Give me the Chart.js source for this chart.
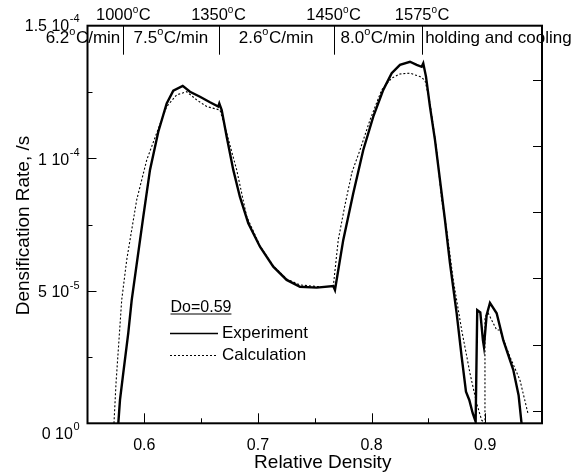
<!DOCTYPE html>
<html>
<head>
<meta charset="utf-8">
<script src="https://cdn.jsdelivr.net/npm/chart.js@4.4.1/dist/chart.umd.min.js"></script>
<style>
  html, body { margin: 0; padding: 0; background: #fff; }
  #wrap { width: 581px; height: 475px; }
</style>
</head>
<body>
<div id="wrap"><canvas id="c" width="581" height="475"></canvas></div>
<script>
// ---------------- DATA ----------------
// Relative density (x) and densification rate in units of 1e-5 /s (y)
const expDensity = [0.5771,0.5786,0.5815,0.5859,0.5889,0.5991,0.6050,0.6123,0.6197,0.6255,0.6338,0.6402,0.6490,0.6578,0.6651,0.6660,0.6681,0.6725,0.6783,0.6841,0.6915,0.7018,0.7135,0.7253,0.7370,0.7517,0.7663,0.7678,0.7751,0.7839,0.7927,0.8015,0.8103,0.8177,0.8250,0.8338,0.8397,0.8441,0.8455,0.8479,0.8514,0.8558,0.8602,0.8646,0.8690,0.8749,0.8793,0.8831,0.8860,0.8890,0.8916,0.8930,0.8957,0.8980,0.8989,0.9013,0.9042,0.9101,0.9159,0.9247,0.9294,0.9320];
const expRate    = [0.00,0.88,1.90,3.41,4.65,7.80,9.56,11.00,12.07,12.55,12.73,12.51,12.32,12.11,11.95,12.07,11.82,10.81,9.56,8.55,7.55,6.66,5.91,5.41,5.15,5.12,5.18,5.03,6.92,8.68,10.31,11.57,12.58,13.21,13.52,13.64,13.52,13.45,13.58,13.08,11.95,10.69,9.18,7.67,6.04,4.15,2.51,1.19,0.88,0.38,0.06,4.27,4.18,3.14,2.89,4.09,4.54,4.15,3.14,2.02,1.06,0.00];

const calcDensity = [0.5733,0.5751,0.5771,0.5801,0.5845,0.5933,0.6021,0.6109,0.6197,0.6285,0.6373,0.6461,0.6549,0.6666,0.6725,0.6813,0.6901,0.7018,0.7135,0.7253,0.7370,0.7517,0.7663,0.7707,0.7766,0.7828,0.7898,0.7986,0.8089,0.8177,0.8250,0.8338,0.8426,0.8470,0.8514,0.8573,0.8617,0.8661,0.8719,0.8793,0.8866,0.8925,0.8969,0.8998,0.8998,0.9027,0.9101,0.9130,0.9218,0.9306,0.9376];
const calcRate    = [0.00,1.51,2.77,4.65,6.16,8.43,9.93,10.95,11.95,12.39,12.51,12.20,11.95,11.82,10.95,9.56,7.80,6.69,5.94,5.44,5.22,5.16,5.16,6.92,8.24,9.48,10.31,11.44,12.58,13.02,13.18,13.21,13.08,12.95,12.08,10.31,8.43,7.30,5.41,3.52,1.89,0.75,0.12,0.00,4.02,4.15,3.52,3.52,2.51,1.63,0.38];

// Axis ticks
const xMajorTicks = [0.6, 0.7, 0.8, 0.9];
const xTickLabels = ['0.6', '0.7', '0.8', '0.9'];
const xMinorTicks = [0.65, 0.75, 0.85];
const yMajorTicks = [0, 5, 10, 15];           // units of 1e-5
const yTickMantissa = ['0', '5', '1', '1.5'];
const yTickExponent = ['0', '-5', '-4', '-4'];
const yMinorTicks = [2.5, 7.5, 12.5];
const yRightTicks = [0.47, 2.97, 5.47, 7.97, 10.47, 12.97];

// Heating schedule (phase boundaries in relative density)
const phaseBounds = [0.5815, 0.6653, 0.7666, 0.8445];
const phaseTemps  = ['1000°C', '1350°C', '1450°C', '1575°C'];
const phaseRates  = ['6.2°C/min', '7.5°C/min', '2.6°C/min', '8.0°C/min', 'holding and cooling'];

const xTitle = 'Relative Density';
const yTitle = 'Densification Rate, /s';
const noteText = 'Do=0.59';

// ---------------- DRAWING ----------------
const FONT = "'Liberation Sans', Arial, Helvetica, sans-serif";

function drawDegText(ctx, text, x, y, size, align) {
  const parts = text.split('°');
  const supSize = Math.round(size * 0.62);
  ctx.font = size + 'px ' + FONT;
  const w0 = ctx.measureText(parts[0]).width;
  const w2 = parts.length > 1 ? ctx.measureText(parts[1]).width : 0;
  ctx.font = supSize + 'px ' + FONT;
  const w1 = parts.length > 1 ? ctx.measureText('o').width + 0.5 : 0;
  const total = w0 + w1 + w2;
  let sx = x;
  if (align === 'center') sx = x - total / 2;
  else if (align === 'right') sx = x - total;
  ctx.textAlign = 'left';
  ctx.textBaseline = 'alphabetic';
  ctx.font = size + 'px ' + FONT;
  ctx.fillText(parts[0], sx, y);
  if (parts.length > 1) {
    ctx.font = supSize + 'px ' + FONT;
    ctx.fillText('o', sx + w0, y - size * 0.42);
    ctx.font = size + 'px ' + FONT;
    ctx.fillText(parts[1], sx + w0 + w1, y);
  }
}

const decor = {
  id: 'decor',
  afterDraw(chart) {
    const ctx = chart.ctx;
    const xs = chart.scales.x, ys = chart.scales.y;
    const a = chart.chartArea;
    ctx.save();
    ctx.fillStyle = '#000';
    ctx.strokeStyle = '#000';

    // frame
    ctx.lineWidth = 2;
    ctx.strokeRect(a.left, a.top, a.right - a.left, a.bottom - a.top);

    // x ticks (inward)
    ctx.lineWidth = 1;
    xMajorTicks.forEach(v => {
      const px = Math.round(xs.getPixelForValue(v)) + 0.5;
      ctx.beginPath(); ctx.moveTo(px, a.bottom); ctx.lineTo(px, a.bottom - 10); ctx.stroke();
    });
    xMinorTicks.forEach(v => {
      const px = Math.round(xs.getPixelForValue(v)) + 0.5;
      ctx.beginPath(); ctx.moveTo(px, a.bottom); ctx.lineTo(px, a.bottom - 5); ctx.stroke();
    });
    // y ticks (left, inward)
    yMajorTicks.forEach(v => {
      if (v === 0 || v === 15) return;
      const py = Math.round(ys.getPixelForValue(v)) + 0.5;
      ctx.beginPath(); ctx.moveTo(a.left, py); ctx.lineTo(a.left + 9, py); ctx.stroke();
    });
    yMinorTicks.forEach(v => {
      const py = Math.round(ys.getPixelForValue(v)) + 0.5;
      ctx.beginPath(); ctx.moveTo(a.left, py); ctx.lineTo(a.left + 5, py); ctx.stroke();
    });
    // right side ticks (inward)
    yRightTicks.forEach(v => {
      const py = Math.round(ys.getPixelForValue(v)) + 0.5;
      ctx.beginPath(); ctx.moveTo(a.right, py); ctx.lineTo(a.right - 9, py); ctx.stroke();
    });

    // x tick labels
    ctx.font = '16px ' + FONT;
    ctx.textAlign = 'center';
    ctx.textBaseline = 'middle';
    xMajorTicks.forEach((v, i) => {
      ctx.fillText(xTickLabels[i], xs.getPixelForValue(v), a.bottom + 22);
    });

    // y tick labels with superscript exponent
    yMajorTicks.forEach((v, i) => {
      let py = ys.getPixelForValue(v) + 2;
      if (v === 0) py += 9;
      if (i === yMajorTicks.length - 1) py -= 1.5;
      const right = a.left - 8;
      ctx.font = '11px ' + FONT;
      const ew = ctx.measureText(yTickExponent[i]).width;
      ctx.textAlign = 'right';
      ctx.textBaseline = 'middle';
      ctx.fillText(yTickExponent[i], right, py - 7);
      ctx.font = '16px ' + FONT;
      ctx.fillText(yTickMantissa[i] + ' 10', right - ew - 0.5, py);
    });

    // axis titles
    ctx.font = '19px ' + FONT;
    ctx.textAlign = 'center';
    ctx.textBaseline = 'middle';
    ctx.fillText(xTitle, (a.left + a.right) / 2 + 8, 463);
    ctx.save();
    ctx.translate(24, (a.top + a.bottom) / 2 + 1);
    ctx.rotate(-Math.PI / 2);
    ctx.fillText(yTitle, 0, 0);
    ctx.restore();

    // phase dividers and labels
    ctx.lineWidth = 1;
    const bx = phaseBounds.map(v => xs.getPixelForValue(v));
    bx.forEach(px => {
      const p = Math.round(px) + 0.5;
      ctx.beginPath(); ctx.moveTo(p, a.top); ctx.lineTo(p, a.top + 29); ctx.stroke();
    });
    phaseTemps.forEach((t, i) => drawDegText(ctx, t, bx[i], 20, 16.5, 'center'));
    phaseRates.forEach((t, i) => {
      if (i === 0) drawDegText(ctx, t, bx[0] - 3, 42.5, 17, 'right');
      else if (i === phaseRates.length - 1) drawDegText(ctx, t, bx[i - 1] + 3, 42.5, 17, 'left');
      else drawDegText(ctx, t, (bx[i - 1] + bx[i]) / 2, 42.5, 17, 'center');
    });

    // annotation "Do=0.59" (underlined)
    const nx = 170.5, ny = 311.5;
    ctx.font = '16px ' + FONT;
    ctx.textAlign = 'left';
    ctx.textBaseline = 'alphabetic';
    ctx.fillText(noteText, nx, ny);
    const nw = ctx.measureText(noteText).width;
    ctx.lineWidth = 1;
    ctx.beginPath(); ctx.moveTo(nx, ny + 2.5); ctx.lineTo(nx + nw, ny + 2.5); ctx.stroke();

    // legend
    const ds = chart.data.datasets;
    const legY = [333, 355];
    ds.forEach((d, i) => {
      ctx.save();
      ctx.strokeStyle = '#000';
      ctx.lineWidth = i === 0 ? 1.6 : 1;
      ctx.setLineDash(d.borderDash || []);
      ctx.beginPath(); ctx.moveTo(170, legY[i] + 0.5); ctx.lineTo(218, legY[i] + 0.5); ctx.stroke();
      ctx.restore();
      ctx.font = '17px ' + FONT;
      ctx.textAlign = 'left';
      ctx.textBaseline = 'middle';
      ctx.fillText(d.label, 222, legY[i]);
    });

    ctx.restore();
  }
};

const toPts = (xs, ys) => xs.map((x, i) => ({ x: x, y: ys[i] }));

new Chart(document.getElementById('c').getContext('2d'), {
  type: 'scatter',
  data: {
    datasets: [
      {
        label: 'Experiment',
        data: toPts(expDensity, expRate),
        showLine: true,
        borderColor: '#000',
        backgroundColor: '#000',
        borderWidth: 2.4,
        pointRadius: 0,
        tension: 0,
        fill: false
      },
      {
        label: 'Calculation',
        data: toPts(calcDensity, calcRate),
        showLine: true,
        borderColor: '#000',
        backgroundColor: '#000',
        borderWidth: 1.1,
        borderDash: [2, 2],
        pointRadius: 0,
        tension: 0,
        fill: false
      }
    ]
  },
  options: {
    responsive: false,
    animation: false,
    devicePixelRatio: 1,
    layout: { padding: { left: 87.5, top: 25.7, right: 39, bottom: 51.7 } },
    plugins: { legend: { display: false }, tooltip: { enabled: false } },
    scales: {
      x: { type: 'linear', min: 0.55, max: 0.95, display: false },
      y: { type: 'linear', min: 0, max: 15, display: false }
    }
  },
  plugins: [decor]
});
</script>
</body>
</html>
